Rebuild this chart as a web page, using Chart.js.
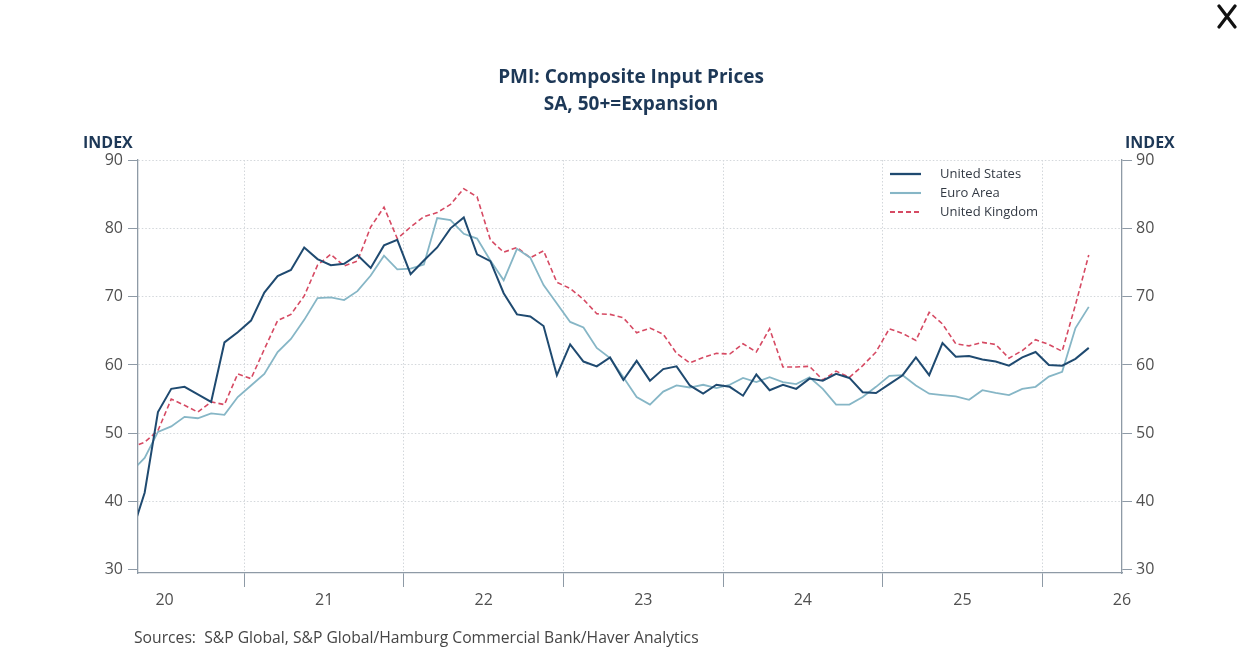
<!DOCTYPE html>
<html>
<head>
<meta charset="utf-8">
<script src="https://cdn.jsdelivr.net/npm/chart.js@4.4.1/dist/chart.umd.min.js"></script>
<style>
html,body{margin:0;padding:0;background:#fff;overflow:hidden}
#wrap{position:relative;width:1237px;height:652px}
canvas{display:block}
</style>
</head>
<body>
<div id="wrap"><canvas id="c" width="1237" height="652"></canvas></div>
<script>
// ---- data (monthly, mid-month) ----
const months = [
 '2020-04','2020-05','2020-06','2020-07','2020-08','2020-09','2020-10','2020-11','2020-12',
 '2021-01','2021-02','2021-03','2021-04','2021-05','2021-06','2021-07','2021-08','2021-09','2021-10','2021-11','2021-12',
 '2022-01','2022-02','2022-03','2022-04','2022-05','2022-06','2022-07','2022-08','2022-09','2022-10','2022-11','2022-12',
 '2023-01','2023-02','2023-03','2023-04','2023-05','2023-06','2023-07','2023-08','2023-09','2023-10','2023-11','2023-12',
 '2024-01','2024-02','2024-03','2024-04','2024-05','2024-06','2024-07','2024-08','2024-09','2024-10','2024-11','2024-12',
 '2025-01','2025-02','2025-03','2025-04','2025-05','2025-06','2025-07','2025-08','2025-09','2025-10','2025-11','2025-12',
 '2026-01','2026-02','2026-03','2026-04'
];
const unitedStates = [
 35.2, 41.3,53.1,56.5,56.8,55.7,54.6,63.3,64.8,
 66.5,70.6,73.0,73.9,77.2,75.5,74.6,74.8,76.1,74.2,77.5,78.3,
 73.3,75.3,77.2,80.0,81.6,76.2,75.2,70.5,67.4,67.1,65.7,58.5,
 63.0,60.5,59.8,61.1,57.8,60.6,57.7,59.4,59.8,57.0,55.8,57.1,
 56.8,55.5,58.6,56.3,57.1,56.5,58.0,57.7,58.7,58.1,56.0,55.9,
 57.2,58.5,61.1,58.5,63.2,61.2,61.3,60.8,60.5,59.9,61.1,61.9,
 60.0,59.9,60.9,62.5
];
const euroArea = [
 44.4, 46.4,50.2,51.0,52.4,52.2,52.9,52.7,55.3,
 57.0,58.7,61.9,63.8,66.6,69.8,69.9,69.5,70.8,73.1,76.0,74.0,
 74.1,74.7,81.5,81.2,79.2,78.5,75.3,72.4,77.0,75.7,71.7,69.0,
 66.3,65.5,62.5,61.0,58.2,55.3,54.2,56.1,57.0,56.7,57.1,56.6,
 57.1,58.1,57.5,58.2,57.5,57.2,58.2,56.5,54.2,54.2,55.3,56.8,
 58.4,58.5,57.0,55.8,55.6,55.4,54.9,56.3,55.9,55.6,56.5,56.8,
 58.3,59.0,65.4,68.5
];
const unitedKingdom = [
 47.9, 48.7,50.4,55.0,54.1,53.1,54.6,54.2,58.7,
 58.0,62.3,66.5,67.4,70.1,74.6,76.2,74.5,75.2,80.2,83.1,78.5,
 80.2,81.7,82.3,83.5,85.8,84.6,78.3,76.5,77.2,75.7,76.7,72.1,
 71.2,69.6,67.5,67.4,66.9,64.7,65.4,64.5,61.7,60.3,61.1,61.7,
 61.6,63.1,61.9,65.3,59.7,59.7,59.8,57.8,59.1,58.2,59.9,61.9,
 65.3,64.6,63.6,67.7,66.0,63.1,62.8,63.3,63.0,61.0,62.1,63.7,
 63.0,62.0,68.8,76.1
];
const seriesNames = ['United States','Euro Area','United Kingdom'];
const yearLabels = ['20','21','22','23','24','25','26'];
const yTickValues = [30,40,50,60,70,80,90];

// ---- helpers ----
function monthPos(s){ const [y,m]=s.split('-').map(Number); return (y-2020)*12 + (m-1) + 0.5; }
function toPoints(vals){ return vals.map((v,i)=>({x:monthPos(months[i]), y:v})); }
const yearCenters = yearLabels.map((l,i)=> i*12+6);
const yearBounds = yearLabels.slice(1).map((l,i)=> (i+1)*12);
const xTickVals = [...yearCenters, ...yearBounds].sort((a,b)=>a-b);
const isBound = v => yearBounds.includes(v);

const FONT = "'Open Sans', 'Noto Sans', sans-serif";
const AXIS = '#8e9aa6';
const GRID = '#d3d7db';
const TXT = '#505050';
const NAVY = '#1d3857';

const overlay = {
  id:'overlay',
  afterDraw(chart){
    const ctx = chart.ctx;
    ctx.save();
    ctx.fillStyle = NAVY;
    ctx.textAlign='center'; ctx.textBaseline='middle';
    ctx.font = "bold 19px " + FONT;
    ctx.fillText('PMI: Composite Input Prices', 631, 78);
    ctx.fillText('SA, 50+=Expansion', 631, 105);
    ctx.font = "bold 16px " + FONT;
    ctx.textAlign='left';
    ctx.fillText('INDEX', 83, 143);
    ctx.fillText('INDEX', 1125, 143);
    // sources
    ctx.fillStyle = '#454545';
    ctx.font = "15.7px " + FONT;
    ctx.fillText('Sources:  S&P Global, S&P Global/Hamburg Commercial Bank/Haver Analytics', 134, 639);
    // legend
    chart.data.datasets.forEach((ds,i)=>{
      const y = 174 + i*19;
      ctx.save();
      ctx.strokeStyle = ds.borderColor; ctx.lineWidth = ds.borderWidth + 0.3;
      ctx.setLineDash(ds.borderDash || []);
      ctx.beginPath(); ctx.moveTo(890,y); ctx.lineTo(921,y); ctx.stroke();
      ctx.restore();
      ctx.fillStyle = '#333a44';
      ctx.font = "13px " + FONT;
      ctx.textAlign='left'; ctx.textBaseline='middle';
      ctx.fillText(ds.label, 940, y);
    });
    // close mark
    ctx.strokeStyle = '#111'; ctx.lineWidth = 3.2; ctx.lineCap='round';
    ctx.beginPath(); ctx.moveTo(1219,6); ctx.lineTo(1235,27); ctx.moveTo(1235,6); ctx.lineTo(1219,27); ctx.stroke();
    ctx.restore();
  }
};

const yCommon = (pos) => ({
  type:'linear', position:pos, min:29.55, max:90, bounds:'data',
  afterBuildTicks: s => { s.ticks = yTickValues.map(v=>({value:v})); },
  afterFit: s => { s.width = pos==='left' ? 138 : 115; },
  grid:{
    drawOnChartArea: pos==='left',
    color: c => (c.tick && c.tick.value===30) ? 'rgba(0,0,0,0)' : GRID,
    lineWidth:1, tickLength:10, tickColor: AXIS, tickWidth:1, tickBorderDash:[]
  },
  border:{ color:AXIS, width:1.3, dash:[1.5,2] },
  ticks:{ padding: pos==='left'?5:4, color:TXT, font:{family:FONT, size:16}, callback:v=>String(v) }
});

new Chart(document.getElementById('c'), {
  type:'line',
  data:{
    datasets:[
      { label:seriesNames[0], data:toPoints(unitedStates), borderColor:'#1f4a70', borderWidth:2, pointRadius:0, tension:0 },
      { label:seriesNames[1], data:toPoints(euroArea), borderColor:'#86b6c6', borderWidth:1.8, pointRadius:0, tension:0 },
      { label:seriesNames[2], data:toPoints(unitedKingdom), borderColor:'#d64a63', borderWidth:1.6, borderDash:[5,3], pointRadius:0, tension:0 }
    ]
  },
  options:{
    responsive:false, animation:false, devicePixelRatio:1,
    layout:{ padding:{ top:160, left:0, right:0, bottom:0 } },
    plugins:{ legend:{display:false}, title:{display:false}, tooltip:{enabled:false} },
    scales:{
      x:{
        type:'linear', min:4, max:78, bounds:'data',
        afterBuildTicks: s => { s.ticks = xTickVals.map(v=>({value:v})); },
        afterFit: s => { s.height = 79; },
        grid:{
          color: c => (c.tick && isBound(c.tick.value)) ? GRID : 'rgba(0,0,0,0)',
          tickColor: c => (c.tick && isBound(c.tick.value)) ? AXIS : 'rgba(0,0,0,0)',
          lineWidth:1, tickLength:14, tickWidth:1, tickBorderDash:[]
        },
        border:{ color:AXIS, width:1.3, dash:[1.5,2] },
        ticks:{ autoSkip:false, maxRotation:0, minRotation:0, padding:4, color:TXT, font:{family:FONT, size:16},
          callback: v => { const i = yearCenters.indexOf(v); return i>=0 ? yearLabels[i] : ''; } }
      },
      y: yCommon('left'),
      y2: yCommon('right')
    }
  },
  plugins:[overlay]
});
</script>
</body>
</html>
